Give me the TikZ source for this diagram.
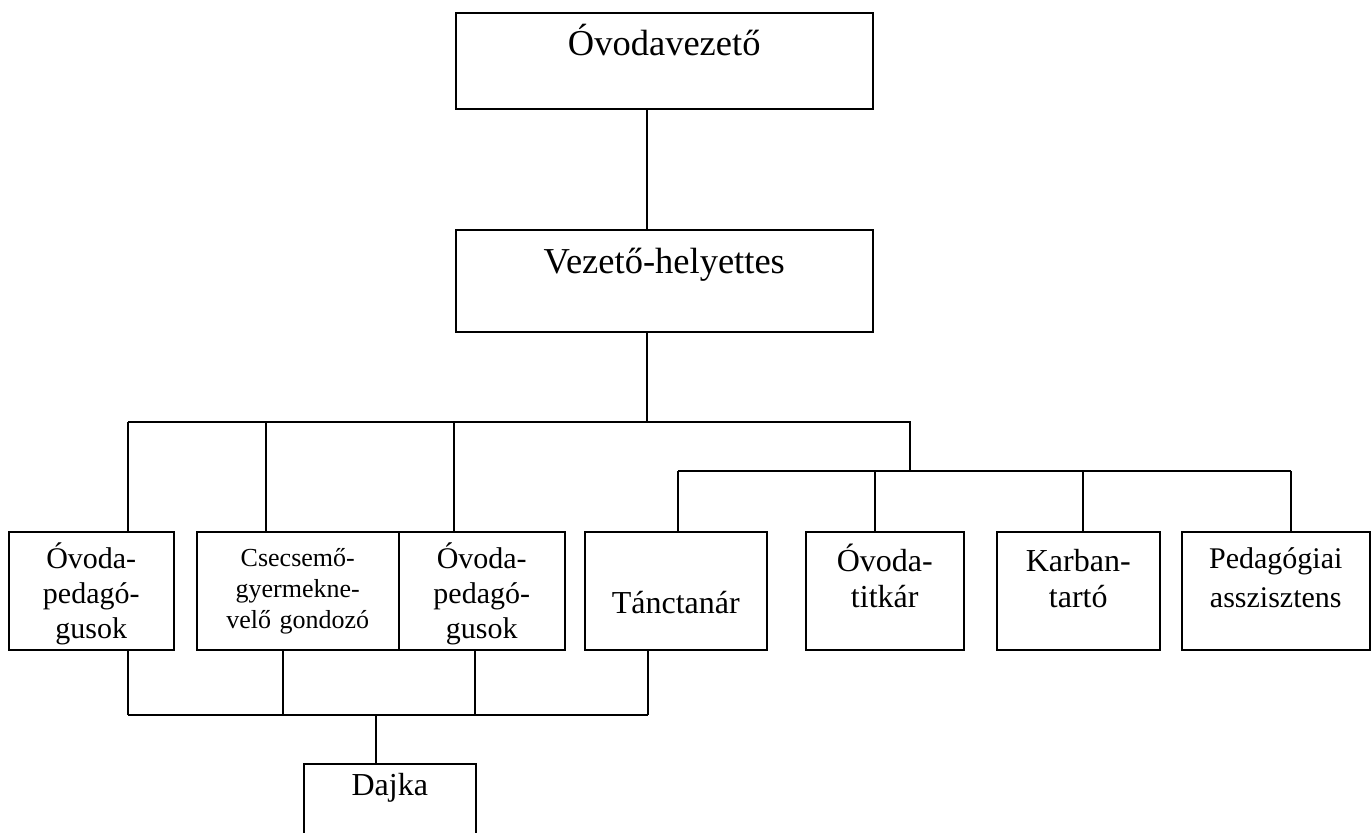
\documentclass[tikz,border=0pt]{standalone}
\usepackage{fontspec}
\setmainfont{Liberation Serif}
\usetikzlibrary{positioning}

\begin{document}
\begin{tikzpicture}[x=0.5pt, y=-0.5pt, line width=0.75pt,
  box/.style={draw, rectangle, inner sep=0pt, align=center, anchor=north west},
  big/.style={font=\fontsize{18.25}{22}\selectfont},
  mid/.style={font=\fontsize{15}{17.5}\selectfont},
  midb/.style={font=\fontsize{16}{18}\selectfont},
  small/.style={font=\fontsize{13}{15.5}\selectfont}]
  \useasboundingbox (0,0) rectangle (1371,832);

  % leaders
  \node[box, big, text width=208.5pt, text height=21.5pt, text depth=26.5pt] (vez) at (455,12) {Óvodavezető};
  \node[box, big, text width=208.5pt, text height=22pt, text depth=29pt] (hely) at (455,229) {Vezető-helyettes};

  % staff
  \node[box, mid, text width=82.5pt, text height=18.5pt, text depth=40.5pt] (ped1) at (8,531) {Óvoda-\\pedagó-\\gusok};
  \node[box, small, text width=101pt, text height=17.5pt, text depth=41.5pt] (csecs) at (196,531) {Csecsemő-\\gyermekne-\\velő gondozó};
  \node[box, mid, text width=83pt, text height=18.5pt, text depth=40.5pt] (ped2) at (398,531) {Óvoda-\\pedagó-\\gusok};
  \node[box, midb, text width=91pt, text height=41pt, text depth=18pt] (tanc) at (584,531) {Tánctanár};
  \node[box, midb, text width=79pt, text height=20pt, text depth=39pt] (titkar) at (805,531) {Óvoda-\\titkár};
  \node[box, midb, text width=81.5pt, text height=20pt, text depth=39pt] (karb) at (996,531) {Karban-\\tartó};
  \node[box, font=\fontsize{15}{19.5}\selectfont, text width=94pt, text height=18.5pt, text depth=40.5pt] (pedas) at (1181,531) {Pedagógiai\\asszisztens};
  \node[box, midb, text width=86pt, text height=16pt, text depth=22.5pt] (dajka) at (303,763) {Dajka};

  % bus junctions
  \coordinate (tr) at (647,422);
  \coordinate (t1) at (128,422);
  \coordinate (t2) at (266,422);
  \coordinate (t3) at (454,422);
  \coordinate (t4) at (910,422);
  \coordinate (s0) at (910,471);
  \coordinate (s1) at (678,471);
  \coordinate (s2) at (875,471);
  \coordinate (s3) at (1083,471);
  \coordinate (s4) at (1291,471);
  \coordinate (u1) at (128,715);
  \coordinate (u2) at (283,715);
  \coordinate (u3) at (475,715);
  \coordinate (u4) at (648,715);
  \coordinate (ud) at (376,715);

  \draw (vez.south -| tr) -- (hely.north -| tr);
  \draw (hely.south -| tr) -- (tr);
  \draw (t1) -- (t4) -- (s0);
  \draw (s1) -- (s4);
  \foreach \c/\n in {t1/ped1, t2/csecs, t3/ped2, s1/tanc, s2/titkar, s3/karb, s4/pedas}
    \draw (\c) -- (\n.north -| \c);
  \foreach \c/\n in {u1/ped1, u2/csecs, u3/ped2, u4/tanc}
    \draw (\n.south -| \c) -- (\c);
  \draw (u1) -- (u4);
  \draw (ud) -- (dajka.north -| ud);
\end{tikzpicture}
\end{document}
